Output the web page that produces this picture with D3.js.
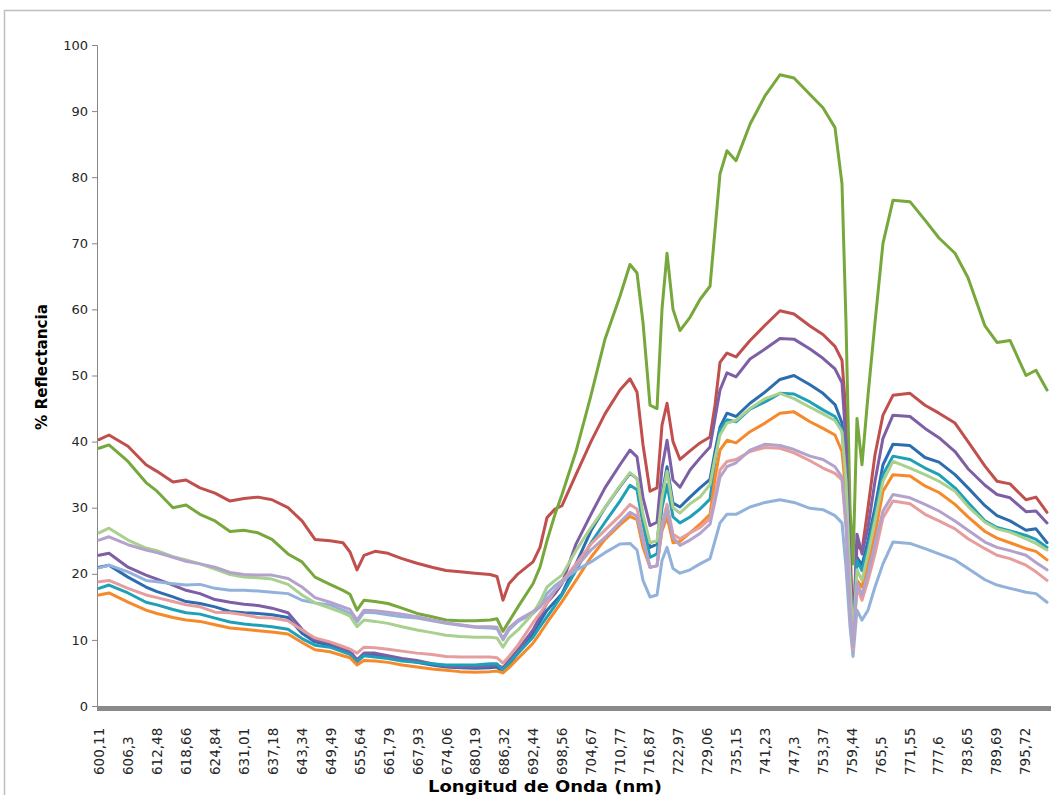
<!DOCTYPE html>
<html><head><meta charset="utf-8">
<script src="https://cdn.jsdelivr.net/npm/d3@7"></script>
<style>body{margin:0;background:#fff}svg{display:block}</style>
</head><body><svg id="chart" width="1051" height="795"></svg>
<script>
// ---------- DATA ----------
const wavelengths = [600.11,602.25,606.31,610.16,612.50,615.92,618.70,621.69,624.89,628.09,631.07,634.06,637.04,640.45,643.43,646.19,649.38,652.14,653.63,655.12,656.61,658.94,661.70,664.68,667.86,671.04,674.00,676.97,680.15,683.32,684.80,686.07,687.34,689.25,692.42,693.90,695.38,697.07,698.55,701.50,704.67,707.62,710.78,712.89,714.37,715.64,717.11,718.59,719.64,720.70,721.96,723.43,725.54,727.64,729.75,730.80,731.85,733.32,735.22,738.16,741.31,744.45,747.39,750.75,753.47,755.99,757.46,758.30,759.14,759.77,760.60,761.65,762.91,764.37,766.04,768.13,771.69,774.83,777.75,781.10,783.82,787.36,789.87,792.58,795.91,797.99,800.29];

const tickLabels = ["600,11","606,3","612,48","618,66","624,84","631,01","637,18","643,34","649,49","655,64","661,79","667,93","674,06","680,19","686,32","692,44","698,56","704,67","710,77","716,87","722,97","729,06","735,15","741,23","747,3","753,37","759,44","765,5","771,55","777,6","783,65","789,69","795,72"];
const yTicks = [0,10,20,30,40,50,60,70,80,90,100];

const blue = [21.0,21.3,19.5,18.0,17.3,16.5,15.8,15.5,15.0,14.3,14.1,14.0,13.8,13.4,11.0,9.7,9.2,8.4,8.0,6.7,7.8,7.7,7.4,7.0,6.6,6.2,5.9,5.8,5.7,5.8,5.9,5.1,6.3,8.0,11.0,12.8,14.5,15.8,17.0,21.5,26.5,30.0,33.2,35.2,34.4,28.5,24.0,24.5,32.0,36.2,30.7,30.1,31.6,33.0,34.3,38.5,42.2,44.3,43.8,45.8,47.5,49.4,50.0,48.6,47.3,45.6,42.8,36.0,20.0,9.5,22.5,21.3,25.0,30.0,36.5,39.6,39.4,37.6,36.9,35.0,33.0,30.3,28.8,28.0,26.6,26.8,24.7];
const red = [40.3,41.0,39.3,36.5,35.5,33.9,34.2,33.0,32.2,31.0,31.4,31.6,31.2,30.0,28.0,25.2,25.0,24.7,23.3,20.6,22.8,23.4,23.1,22.3,21.6,21.0,20.5,20.3,20.1,19.9,19.6,16.0,18.5,20.0,21.8,24.0,28.5,29.8,30.3,35.0,40.0,44.2,47.8,49.5,47.5,39.5,32.5,33.0,42.5,45.8,40.0,37.3,38.6,39.8,40.7,45.5,52.0,53.4,52.8,55.3,57.6,59.8,59.3,57.5,56.2,54.4,52.3,44.0,25.0,10.5,24.5,23.5,30.0,38.0,44.0,47.0,47.3,45.5,44.3,42.8,40.0,36.3,34.0,33.6,31.2,31.6,29.3];
const green = [39.0,39.5,37.0,33.8,32.5,30.0,30.4,29.0,28.0,26.4,26.6,26.2,25.2,23.0,21.8,19.5,18.4,17.5,16.9,14.5,16.0,15.8,15.5,14.8,14.0,13.5,13.0,12.9,12.9,13.0,13.2,11.3,12.8,15.0,18.5,21.0,25.0,29.0,32.0,38.5,47.0,55.5,62.0,66.8,65.5,58.0,45.5,45.0,60.0,68.5,60.0,56.8,58.8,61.5,63.5,72.0,80.5,84.0,82.5,88.0,92.3,95.5,95.0,92.5,90.5,87.5,79.0,58.0,30.0,21.5,43.5,36.5,47.0,58.0,70.0,76.5,76.3,73.5,70.8,68.5,64.8,57.5,55.0,55.3,50.0,50.8,47.8];
const purple = [22.8,23.1,21.0,19.8,19.2,18.3,17.5,17.0,16.1,15.7,15.4,15.2,14.8,14.1,11.6,10.0,9.5,8.7,8.3,7.0,8.0,8.0,7.6,7.2,6.9,6.4,6.0,5.9,5.9,6.1,6.2,5.8,6.9,8.5,11.5,13.5,15.6,17.0,18.5,24.5,29.0,33.0,36.5,38.7,37.7,31.5,27.3,27.8,36.0,40.2,34.2,33.1,35.7,37.5,39.2,43.5,47.8,50.4,49.8,52.5,54.0,55.6,55.5,54.0,52.6,51.0,48.9,40.0,22.0,10.0,26.0,23.0,27.0,34.0,40.5,44.0,43.8,42.0,40.6,38.5,35.9,33.4,32.0,31.5,29.4,29.5,27.7];
const teal = [17.8,18.3,17.1,15.7,15.3,14.6,14.1,13.9,13.3,12.7,12.4,12.2,12.0,11.6,10.2,9.2,8.9,8.2,7.8,6.7,7.6,7.4,7.2,6.8,6.6,6.4,6.2,6.2,6.2,6.4,6.4,5.4,6.5,8.0,10.4,12.0,13.5,15.2,16.8,20.5,24.7,27.8,31.0,33.4,32.7,27.5,22.5,23.0,30.0,33.5,28.6,27.7,28.6,29.8,31.3,37.0,41.8,43.3,43.0,44.9,46.0,47.3,47.2,46.0,44.8,43.8,41.8,34.0,19.0,9.0,22.0,20.5,24.0,29.0,35.0,37.8,37.3,36.0,35.0,33.0,30.8,28.0,27.0,26.5,25.8,25.2,24.0];
const orange = [16.8,17.1,15.7,14.5,14.0,13.4,13.0,12.8,12.3,11.8,11.6,11.4,11.2,10.9,9.6,8.5,8.2,7.6,7.3,6.2,6.9,6.8,6.6,6.2,5.9,5.6,5.4,5.2,5.1,5.2,5.3,5.0,5.8,7.2,9.5,11.0,12.6,14.3,15.8,19.0,22.5,25.2,27.4,28.7,28.2,24.0,21.0,21.3,26.5,28.6,24.7,24.9,26.2,27.5,29.0,34.5,38.7,40.2,39.8,41.5,42.8,44.3,44.5,43.0,42.0,41.0,38.5,32.0,17.0,9.0,19.0,18.0,21.5,26.0,32.5,35.0,34.8,33.3,32.3,30.5,28.6,26.4,25.4,24.7,23.8,23.4,22.1];
const lightBlue = [20.9,21.3,20.3,19.0,18.8,18.5,18.3,18.4,17.8,17.5,17.5,17.4,17.2,17.0,16.0,15.6,15.3,14.5,14.0,12.7,14.2,14.1,13.8,13.5,13.3,12.9,12.5,12.2,11.9,11.8,11.7,10.0,11.5,12.8,14.0,15.0,17.0,18.2,19.0,20.5,21.8,23.2,24.5,24.6,23.6,19.0,16.5,16.8,22.0,24.0,20.8,20.1,20.6,21.5,22.3,25.0,27.7,29.0,29.0,30.1,30.8,31.2,30.8,29.9,29.7,28.8,27.7,21.0,12.0,7.5,14.5,13.0,14.5,18.0,21.5,24.8,24.6,23.8,23.0,22.1,20.8,19.1,18.3,17.8,17.2,17.0,15.7];
const pink = [18.8,19.0,17.8,16.8,16.4,15.8,15.3,15.0,14.2,14.1,13.8,13.4,13.3,12.9,11.5,10.3,9.7,9.0,8.6,8.0,8.9,8.8,8.6,8.3,8.0,7.8,7.5,7.4,7.4,7.4,7.3,6.5,7.5,9.2,12.6,14.0,15.6,17.5,18.8,21.5,24.5,26.6,28.8,30.5,29.8,25.5,21.0,21.2,27.5,30.5,26.0,25.3,26.2,27.0,28.4,32.0,35.7,37.0,37.3,38.5,39.1,39.0,38.3,37.1,36.0,35.2,34.2,27.0,15.0,8.5,18.0,16.0,19.0,23.0,28.5,31.0,30.6,29.0,28.0,26.8,25.3,23.8,22.8,22.3,21.3,20.3,19.0];
const lightGreen = [26.2,26.9,25.1,23.9,23.5,22.6,22.1,21.5,20.7,19.9,19.5,19.4,19.2,18.4,16.8,15.6,14.8,14.1,13.6,12.0,13.0,12.8,12.5,12.0,11.5,11.1,10.7,10.5,10.4,10.4,10.3,8.9,10.3,11.5,14.0,15.8,18.0,19.0,19.8,23.5,27.0,30.0,33.3,35.3,34.4,29.0,24.7,25.0,31.5,35.5,30.0,29.2,30.6,31.6,33.5,37.5,41.0,42.8,43.2,45.0,46.5,47.3,46.5,45.2,44.2,43.2,41.5,34.0,19.0,10.0,20.6,19.0,23.0,28.0,34.0,37.0,36.0,35.0,34.0,32.5,30.2,27.8,26.8,26.3,25.3,24.6,23.6];
const lightPurple = [25.1,25.6,24.4,23.6,23.2,22.5,21.9,21.5,21.0,20.2,19.9,19.8,19.8,19.3,18.0,16.4,15.7,15.0,14.6,13.0,14.5,14.4,14.2,13.9,13.5,13.0,12.6,12.3,12.0,12.0,11.9,10.2,11.8,13.0,14.3,15.0,16.2,17.5,18.6,21.0,23.6,25.5,27.8,29.3,28.7,25.0,21.0,21.2,27.0,29.7,25.5,24.3,25.1,26.1,27.5,31.0,34.6,36.2,36.8,38.7,39.6,39.4,38.8,37.8,37.3,36.2,34.6,28.0,15.0,9.0,18.6,16.8,20.0,24.5,29.5,32.0,31.5,30.5,29.5,28.0,26.6,24.8,24.0,23.5,22.8,21.7,20.6];

const series = [
  {name: "S1", values: blue, color: "#2C6DB0"},
  {name: "S2", values: red, color: "#C0504D"},
  {name: "S3", values: green, color: "#77A83C"},
  {name: "S4", values: purple, color: "#7E5FA5"},
  {name: "S5", values: teal, color: "#1FA0B8"},
  {name: "S6", values: orange, color: "#F68A2A"},
  {name: "S7", values: lightBlue, color: "#92B2DB"},
  {name: "S8", values: pink, color: "#E69D9D"},
  {name: "S9", values: lightGreen, color: "#A9D08E"},
  {name: "S10", values: lightPurple, color: "#B3A2CC"}
];

// ---------- LAYOUT ----------
const svg = d3.select("#chart");
const plot = {left: 97, top: 45, bottom: 706, firstCat: 99, step: 28.94};
const tickValues = tickLabels.map(s => +s.replace(",", "."));

const x = d3.scaleLinear()
  .domain(tickValues)
  .range(tickValues.map((d, i) => plot.firstCat + i * plot.step));
const y = d3.scaleLinear().domain([0, 100]).range([plot.bottom, plot.top]);

// outer chart border
svg.append("path")
  .attr("d", "M4.5,800 V10.5 H1060")
  .attr("fill", "none").attr("stroke", "#BFBFBF").attr("stroke-width", 1.5);

// y axis
const yAxis = svg.append("g")
  .attr("transform", `translate(${plot.left},0)`)
  .call(d3.axisLeft(y).tickValues(yTicks).tickSize(5).tickPadding(4).tickFormat(d3.format("d")));
yAxis.select(".domain").attr("stroke", "#868686").attr("stroke-width", 1);
yAxis.selectAll(".tick line").attr("stroke", "#868686");
yAxis.selectAll("text")
  .attr("font-family", "DejaVu Sans, Verdana, sans-serif")
  .attr("font-size", 13).attr("fill", "#262626");

// series lines
const line = d3.line()
  .x((d, i) => x(wavelengths[i]))
  .y(d => y(d));
svg.append("g").selectAll("path").data(series).join("path")
  .attr("d", s => line(s.values))
  .attr("fill", "none")
  .attr("stroke", s => s.color)
  .attr("stroke-width", 3)
  .attr("stroke-linejoin", "round")
  .attr("stroke-linecap", "round");

// x axis (dense category tick band)
const xAxis = svg.append("g")
  .attr("transform", `translate(0,${plot.bottom + 2.5})`)
  .call(d3.axisBottom(x).tickValues(tickValues).tickSize(0)
    .tickFormat((d, i) => tickLabels[i]));
xAxis.select(".domain")
  .attr("d", `M${plot.left},0H1051`)
  .attr("stroke", "#8A8A8A").attr("stroke-width", 5);
xAxis.selectAll("text")
  .attr("font-family", "DejaVu Sans, Verdana, sans-serif")
  .attr("font-size", 13.5).attr("fill", "#262626")
  .attr("transform", "rotate(-90)")
  .attr("text-anchor", "start")
  .attr("x", -(775 - plot.bottom - 2.5))
  .attr("y", 0)
  .attr("dy", "0.35em");

// axis titles
svg.append("text")
  .attr("transform", "translate(47,367) rotate(-90)")
  .attr("text-anchor", "middle")
  .attr("font-family", "DejaVu Sans, Verdana, sans-serif")
  .attr("font-weight", "bold").attr("font-size", 15)
  .attr("textLength", 126).attr("lengthAdjust", "spacingAndGlyphs")
  .attr("fill", "#000")
  .text("% Reflectancia");

svg.append("text")
  .attr("x", 545).attr("y", 792)
  .attr("text-anchor", "middle")
  .attr("font-family", "DejaVu Sans, Verdana, sans-serif")
  .attr("font-weight", "bold").attr("font-size", 16)
  .attr("textLength", 234).attr("lengthAdjust", "spacingAndGlyphs")
  .attr("fill", "#000")
  .text("Longitud de Onda (nm)");
</script>
</body></html>
